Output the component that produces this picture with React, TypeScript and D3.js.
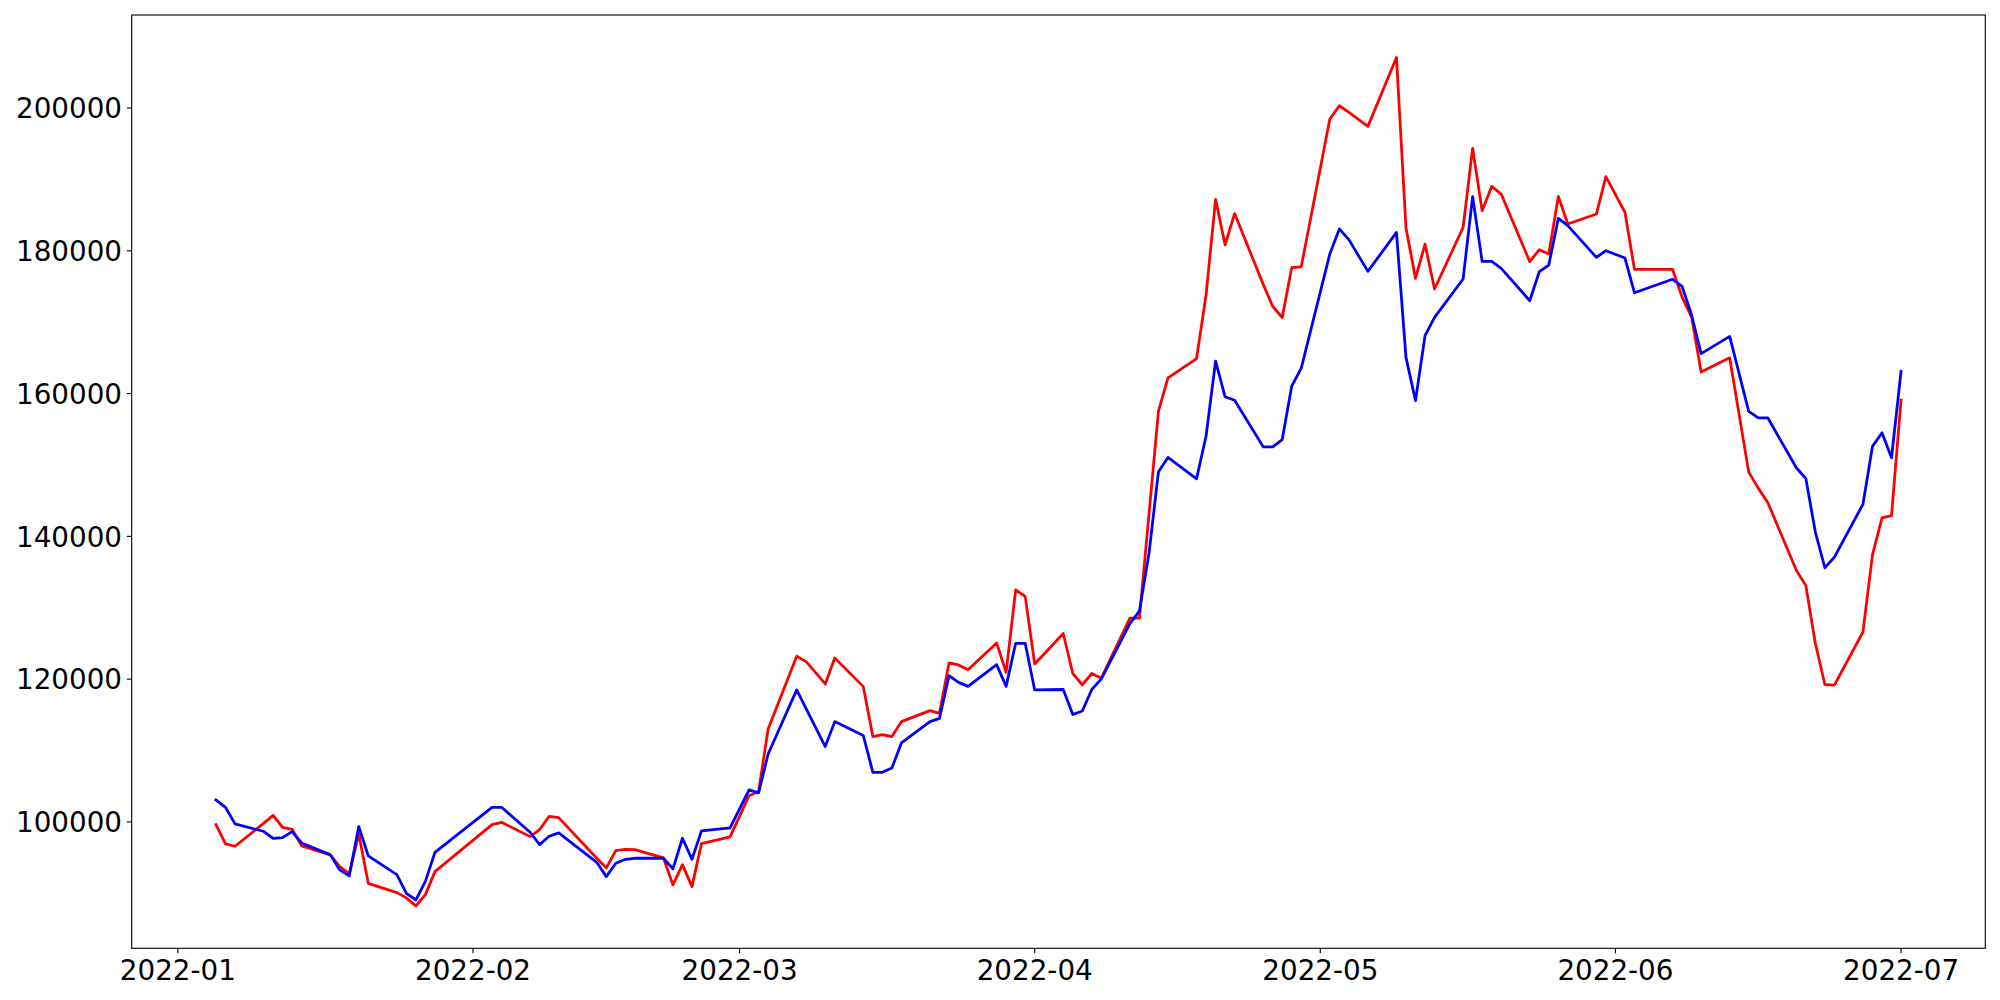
import React from 'react';
import * as d3 from 'd3';

const dates = [
  '2022-01-05','2022-01-06','2022-01-07','2022-01-10','2022-01-11','2022-01-12','2022-01-13','2022-01-14',
  '2022-01-17','2022-01-18','2022-01-19','2022-01-20','2022-01-21','2022-01-24','2022-01-25','2022-01-26',
  '2022-01-27','2022-01-28',
  '2022-02-03','2022-02-04','2022-02-07','2022-02-08','2022-02-09','2022-02-10','2022-02-14','2022-02-15',
  '2022-02-16','2022-02-17','2022-02-18','2022-02-21','2022-02-22','2022-02-23','2022-02-24','2022-02-25',
  '2022-02-28',
  '2022-03-02','2022-03-03','2022-03-04','2022-03-07','2022-03-08','2022-03-10','2022-03-11','2022-03-14',
  '2022-03-15','2022-03-16','2022-03-17','2022-03-18','2022-03-21','2022-03-22','2022-03-23','2022-03-24',
  '2022-03-25','2022-03-28','2022-03-29','2022-03-30','2022-03-31',
  '2022-04-01','2022-04-04','2022-04-05','2022-04-06','2022-04-07','2022-04-08','2022-04-11','2022-04-12',
  '2022-04-13','2022-04-14','2022-04-15','2022-04-18','2022-04-19','2022-04-20','2022-04-21','2022-04-22',
  '2022-04-25','2022-04-26','2022-04-27','2022-04-28','2022-04-29',
  '2022-05-02','2022-05-03','2022-05-04','2022-05-06','2022-05-09','2022-05-10','2022-05-11','2022-05-12',
  '2022-05-13','2022-05-16','2022-05-17','2022-05-18','2022-05-19','2022-05-20','2022-05-23','2022-05-24',
  '2022-05-25','2022-05-26','2022-05-27','2022-05-30','2022-05-31',
  '2022-06-02','2022-06-03','2022-06-07','2022-06-08','2022-06-09','2022-06-10','2022-06-13','2022-06-15',
  '2022-06-16','2022-06-17','2022-06-20','2022-06-21','2022-06-22','2022-06-23','2022-06-24','2022-06-27',
  '2022-06-28','2022-06-29','2022-06-30',
  '2022-07-01',
];

const redValues = [
  99620, 96920, 96590, 99790, 100930, 99250, 98970, 96640,
  95380, 93740, 92720, 98320, 91400, 90100, 89360, 88240,
  89820, 93040,
  99620, 99950, 97940, 98920, 100790, 100600, 94910, 93560,
  95980, 96160, 96120, 94960, 91180, 94020, 90940, 96960,
  97900,
  103680, 104260, 113020, 123200, 122450, 119330, 122970, 118950,
  111950, 112230, 111950, 114050, 115590, 115210, 122270, 121990,
  121330, 125070, 120950, 132490, 131600,
  122130, 126390, 120790, 119190, 120790, 120140, 128540, 128540,
  143050, 157550, 162210, 164900, 173810, 187220, 180820, 185220,
  175310, 172210, 170660, 177660, 177760,
  198460, 200320, 199390, 197430, 207090, 183200, 176140, 180950,
  174650, 183280, 194350, 185620, 189020, 187950, 178480, 180160,
  179550, 187620, 183760, 185150, 190380,
  185390, 177400, 177400, 173520, 170760, 163010, 165010, 149000,
  146760, 144750, 135250, 133100, 124990, 119250, 119150, 126600,
  137400, 142600, 142900,
  159110,
];

const blueValues = [
  103080, 102050, 99720, 98690, 97700, 97800, 98640, 97060,
  95420, 93280, 92440, 99340, 95240, 92620, 90000, 89070,
  91680, 95740,
  102050, 102050, 98550, 96820, 97990, 98460, 94340, 92340,
  94210, 94770, 94910, 94910, 93420, 97710, 94770, 98740,
  99160,
  104480, 104060, 109520, 118490, 115830, 110550, 114050, 112090,
  106950, 106950, 107560, 111060, 114050, 114510, 120490, 119550,
  118990, 122030, 118990, 125020, 125020,
  118490, 118550, 115040, 115530, 118550, 120040, 127790, 129540,
  137550, 149050, 151050, 148050, 154050, 164550, 159550, 159060,
  152550, 152550, 153560, 161050, 163560,
  179570, 183070, 181570, 177120, 182580, 165070, 159010, 168110,
  170680, 176050, 187580, 178520, 178520, 177540, 173010, 177070,
  178010, 184540, 183520, 179080, 180020,
  178990, 174120, 176010, 175020, 171010, 165600, 168010, 157510,
  156610, 156610, 149610, 148100, 140600, 135600, 137100, 144500,
  152610, 154510, 151010,
  163110,
];

const yTickValues = [100000, 120000, 140000, 160000, 180000, 200000];
const xTickLabels = ['2022-01', '2022-02', '2022-03', '2022-04', '2022-05', '2022-06', '2022-07'];

export default function App() {
  const W = 2000;
  const H = 1000;
  const left = 131.7;
  const right = 1985.3;
  const top = 15;
  const bottom = 948.3;
  const fontSize = 27.78;
  const tickLen = 4.86;

  const parseDay = d3.utcParse('%Y-%m-%d');
  const parseMonth = d3.utcParse('%Y-%m');
  const ds = dates.map((d) => parseDay(d) as Date);
  const [d0, d1] = d3.extent(ds) as [Date, Date];
  const padT = (+d1 - +d0) * 0.05;
  const x = d3
    .scaleUtc()
    .domain([new Date(+d0 - padT), new Date(+d1 + padT)])
    .range([left, right]);

  const all = [...redValues, ...blueValues];
  const [v0, v1] = d3.extent(all) as [number, number];
  const padV = (v1 - v0) * 0.05;
  const y = d3.scaleLinear().domain([v0 - padV, v1 + padV]).range([bottom, top]);

  const line = d3
    .line<number>()
    .x((_, i) => x(ds[i]))
    .y((v) => y(v));

  const xTicks = xTickLabels.map((l) => ({ label: l, date: parseMonth(l) as Date }));

  return (
    <div style={{ position: 'absolute', left: 0, top: 0 }}>
      <style>{`body{margin:0}`}</style>
      <svg width={W} height={H} style={{ display: 'block', background: '#fff' }}
        fontFamily="'DejaVu Sans', sans-serif">
        <rect x={0} y={0} width={W} height={H} fill="#fff" />
        <path d={line(redValues) || ''} fill="none" stroke="#ff0000" strokeWidth={2.78}
          strokeLinejoin="round" strokeLinecap="square" />
        <path d={line(blueValues) || ''} fill="none" stroke="#0000ff" strokeWidth={2.78}
          strokeLinejoin="round" strokeLinecap="square" />
        <rect x={left} y={top} width={right - left} height={bottom - top} fill="none"
          stroke="#000" strokeWidth={1.11} />
        {yTickValues.map((v) => (
          <g key={v} transform={`translate(0,${y(v)})`}>
            <line x1={left - tickLen} x2={left} stroke="#000" strokeWidth={1.11} />
            <text x={left - tickLen - 4.86} y={0} dy={10.2} textAnchor="end" fontSize={fontSize}
              fill="#000">
              {String(v)}
            </text>
          </g>
        ))}
        {xTicks.map((t) => (
          <g key={t.label} transform={`translate(${x(t.date)},0)`}>
            <line y1={bottom} y2={bottom + tickLen} stroke="#000" strokeWidth={1.11} />
            <text x={0} y={980} textAnchor="middle" fontSize={fontSize} fill="#000">
              {t.label}
            </text>
          </g>
        ))}
      </svg>
    </div>
  );
}
